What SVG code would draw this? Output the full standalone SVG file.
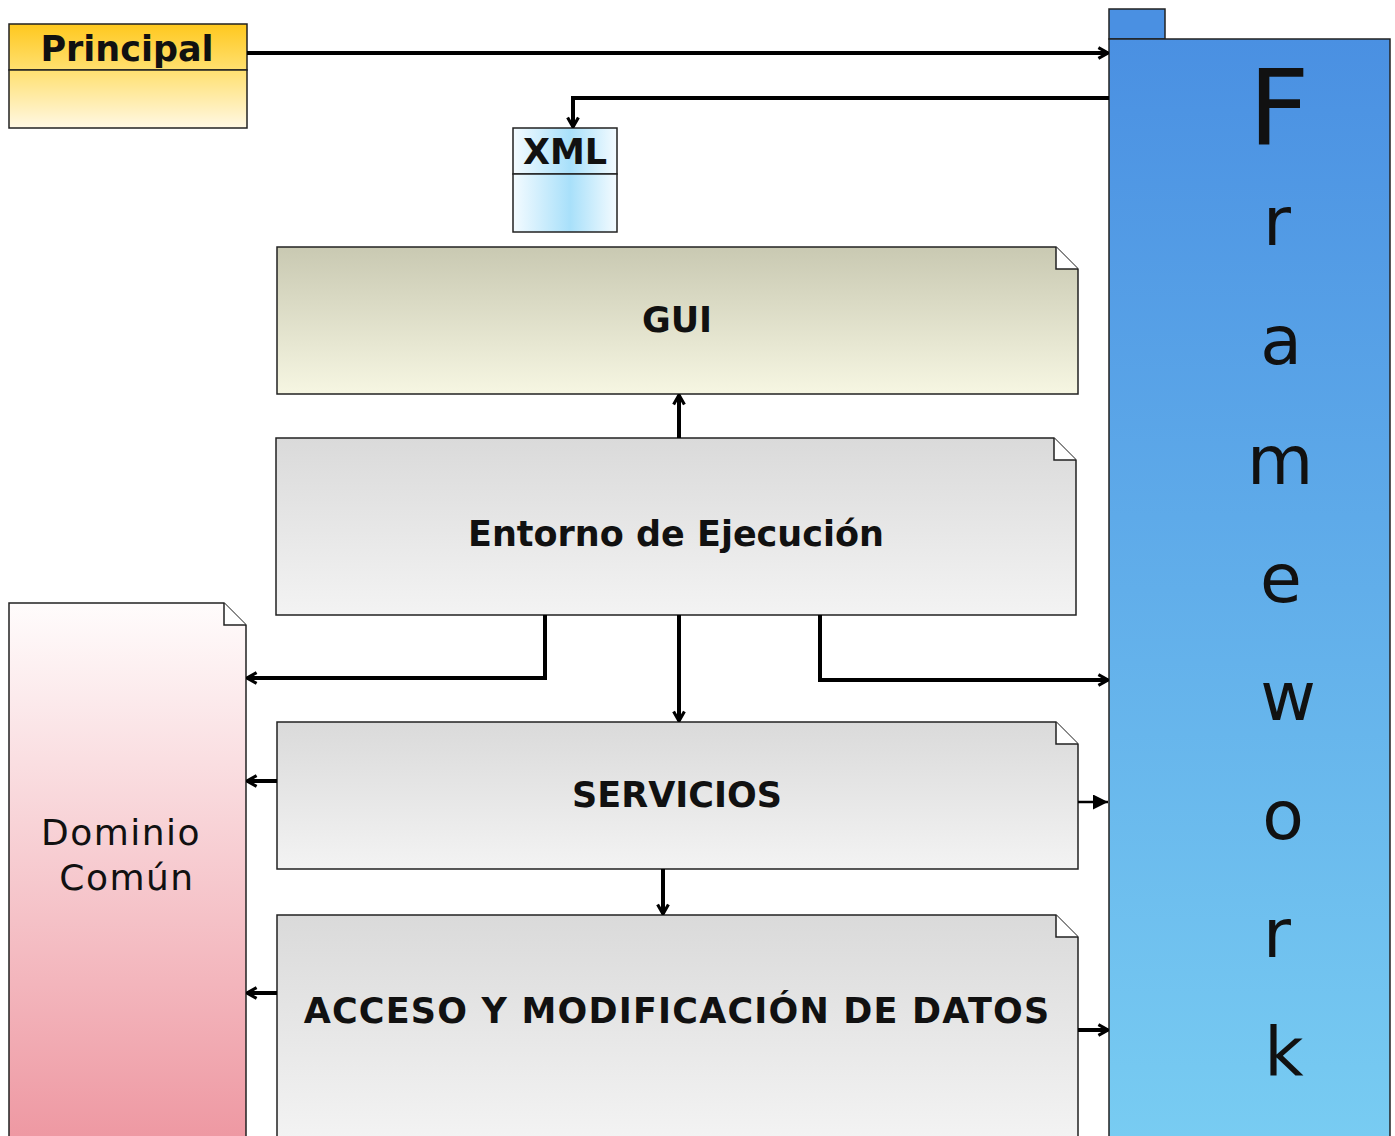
<svg xmlns="http://www.w3.org/2000/svg" width="1395" height="1136" viewBox="0 0 1395 1136">
<defs>
<linearGradient id="gGold" x1="0" y1="0" x2="0" y2="1"><stop offset="0" stop-color="#FFC81E"/><stop offset="1" stop-color="#FFE070"/></linearGradient>
<linearGradient id="gGoldB" x1="0" y1="0" x2="0" y2="1"><stop offset="0" stop-color="#FFE070"/><stop offset="1" stop-color="#FFF8E4"/></linearGradient>
<linearGradient id="gXml" x1="0" y1="0" x2="1" y2="0"><stop offset="0" stop-color="#F4FBFF"/><stop offset="0.55" stop-color="#A8E0FA"/><stop offset="1" stop-color="#F4FBFF"/></linearGradient>
<linearGradient id="gBlue" x1="0" y1="0" x2="0" y2="1"><stop offset="0" stop-color="#4A90E2"/><stop offset="1" stop-color="#78CCF2"/></linearGradient>
<linearGradient id="gGui" x1="0" y1="0" x2="0" y2="1"><stop offset="0" stop-color="#C9C9B2"/><stop offset="1" stop-color="#F6F6E2"/></linearGradient>
<linearGradient id="gGray" x1="0" y1="0" x2="0" y2="1"><stop offset="0" stop-color="#DADADA"/><stop offset="1" stop-color="#F3F3F3"/></linearGradient>
<linearGradient id="gPink" x1="0" y1="0" x2="0" y2="1"><stop offset="0" stop-color="#FFFCFC"/><stop offset="1" stop-color="#EE98A2"/></linearGradient>
<marker id="chev" viewBox="0 0 12 12" refX="11" refY="6" markerWidth="3.6" markerHeight="3.6" orient="auto" markerUnits="strokeWidth">
<path d="M3,1.5 L11,6 L3,10.5" fill="none" stroke="#000" stroke-width="2.6" stroke-linejoin="miter"/>
</marker>
<marker id="tri" viewBox="0 0 10 10" refX="10" refY="5" markerWidth="8" markerHeight="6" orient="auto" markerUnits="strokeWidth">
<path d="M0,0 L10,5 L0,10 Z" fill="#000"/>
</marker>
</defs>
<style>
.box{stroke:#222;stroke-width:1.5}
.lbl{font-family:"DejaVu Sans",Verdana,sans-serif;font-weight:bold;fill:#111;text-anchor:middle}
.reg{font-family:"DejaVu Sans",Verdana,sans-serif;fill:#111;text-anchor:middle}
.fw{font-family:"DejaVu Sans",Verdana,sans-serif;fill:#111;text-anchor:middle;font-size:68px}
.conn{fill:none;stroke:#000;stroke-width:4;marker-end:url(#chev)}
.thin{fill:none;stroke:#000;stroke-width:2.5;marker-end:url(#tri)}
</style>
<rect width="1395" height="1136" fill="#fff"/>

<g id="framework">
<rect class="box" x="1109" y="9" width="56" height="30" fill="#4A90E2"/>
<rect class="box" x="1109" y="39" width="281" height="1100" fill="url(#gBlue)"/>
<text class="reg" x="1279" y="145" font-size="106">F</text>
<text class="fw" x="1277" y="245">r</text>
<text class="fw" x="1281" y="364">a</text>
<text class="fw" x="1280" y="484">m</text>
<text class="fw" x="1281" y="602">e</text>
<text class="fw" x="1288" y="720">w</text>
<text class="fw" x="1283" y="839">o</text>
<text class="fw" x="1277" y="957">r</text>
<text class="fw" x="1284" y="1076">k</text>
</g>

<g id="principal">
<rect class="box" x="9" y="24" width="238" height="46" fill="url(#gGold)"/>
<rect class="box" x="9" y="70" width="238" height="58" fill="url(#gGoldB)"/>
<text class="lbl" x="127" y="61" font-size="35">Principal</text>
</g>

<g id="xml">
<rect class="box" x="513" y="128" width="104" height="46" fill="url(#gXml)"/>
<rect class="box" x="513" y="174" width="104" height="58" fill="url(#gXml)"/>
<text class="lbl" x="565" y="164" font-size="35">XML</text>
</g>

<g id="gui">
<path class="box" d="M277,247 H1056 L1078,269 V394 H277 Z" fill="url(#gGui)"/>
<path class="box" d="M1056,247 V269 H1078" fill="#fff"/>
<text class="lbl" x="677" y="332" font-size="35">GUI</text>
</g>

<g id="entorno">
<path class="box" d="M276,438 H1054 L1076,460 V615 H276 Z" fill="url(#gGray)"/>
<path class="box" d="M1054,438 V460 H1076" fill="#fff"/>
<text class="lbl" x="676" y="546" font-size="35">Entorno de Ejecución</text>
</g>

<g id="dominio">
<path class="box" d="M9,603 H224 L246,625 V1140 H9 Z" fill="url(#gPink)"/>
<path class="box" d="M224,603 V625 H246" fill="#fff"/>
<text class="reg" x="121" y="845" font-size="36" letter-spacing="1.5">Dominio</text>
<text class="reg" x="127" y="890" font-size="36" letter-spacing="1.5">Común</text>
</g>

<g id="servicios">
<path class="box" d="M277,722 H1056 L1078,744 V869 H277 Z" fill="url(#gGray)"/>
<path class="box" d="M1056,722 V744 H1078" fill="#fff"/>
<text class="lbl" x="677" y="807" font-size="35">SERVICIOS</text>
</g>

<g id="acceso">
<path class="box" d="M277,915 H1056 L1078,937 V1140 H277 Z" fill="url(#gGray)"/>
<path class="box" d="M1056,915 V937 H1078" fill="#fff"/>
<text class="lbl" x="677" y="1023" font-size="35" letter-spacing="1.2">ACCESO Y MODIFICACIÓN DE DATOS</text>
</g>

<g id="connectors">
<path class="conn" d="M247,53 H1108"/>
<path class="conn" d="M1109,98 H573 V127"/>
<path class="conn" d="M679,438 V395"/>
<path class="conn" d="M545,615 V678 H247"/>
<path class="conn" d="M679,615 V721"/>
<path class="conn" d="M820,615 V680 H1108"/>
<path class="conn" d="M277,781 H247"/>
<path class="thin" d="M1078,802 H1108"/>
<path class="conn" d="M663,869 V914"/>
<path class="conn" d="M277,993 H247"/>
<path class="conn" d="M1078,1030 H1108"/>
</g>
</svg>
